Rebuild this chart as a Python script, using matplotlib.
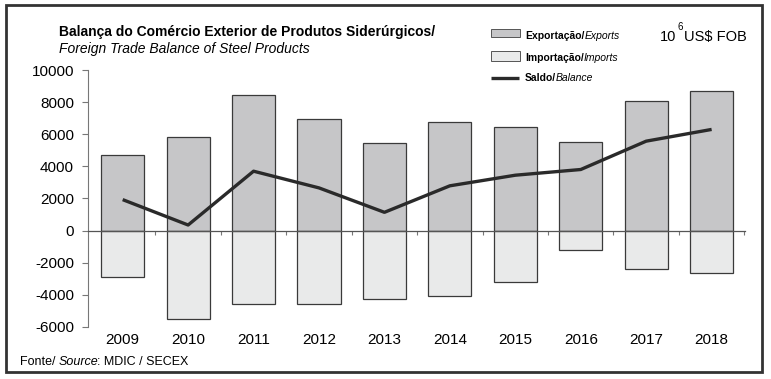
import matplotlib.pyplot as plt
from matplotlib.patches import Rectangle
from matplotlib.lines import Line2D
import numpy as np

years = ["2009", "2010", "2011", "2012", "2013", "2014", "2015", "2016", "2017", "2018"]
exports = [4720, 5800, 8420, 6970, 5430, 6740, 6470, 5490, 8050, 8710]
imports = [-2870, -5510, -4575, -4575, -4240, -4055, -3200, -1205, -2370, -2640]
balance = [1930, 350, 3700, 2660, 1140, 2790, 3450, 3805, 5570, 6300]
yticks = [-6000, -4000, -2000, 0, 2000, 4000, 6000, 8000, 10000]

plt.rcParams['font.family'] = ['Liberation Sans', 'DejaVu Sans']

W, H = 771, 379
fig = plt.figure(figsize=(W / 100, H / 100), dpi=100)
ax = fig.add_axes([88 / W, 1 - 327 / H, (745 - 88) / W, (327 - 70) / H])

x = np.arange(len(years))
ax.bar(x, exports, width=0.66, color="#c6c6c8", edgecolor="#3a3a3a", linewidth=0.9, zorder=2)
ax.bar(x, imports, width=0.66, color="#e9eaea", edgecolor="#3a3a3a", linewidth=0.9, zorder=2)
ax.plot(x, balance, color="#2a2a2a", linewidth=2.4, zorder=4, solid_capstyle="butt")

ax.set_xlim(-0.53, 9.51)
ax.set_ylim(-6000, 10000)
ax.set_yticks(yticks)
ax.set_yticklabels([str(v) for v in yticks], fontsize=11)
ax.tick_params(axis="y", direction="out", length=4, width=0.8, color="#777777", pad=6)

ax.spines["top"].set_visible(False)
ax.spines["right"].set_visible(False)
ax.spines["left"].set_color("#777777")
ax.spines["left"].set_linewidth(0.8)
ax.spines["bottom"].set_position(("data", 0))
ax.spines["bottom"].set_color("#555555")
ax.spines["bottom"].set_linewidth(0.9)
ax.spines["bottom"].set_zorder(3)
ax.set_xticks(np.arange(0.5, 10, 1.0))
ax.set_xticklabels([])
ax.tick_params(axis="x", direction="out", length=3, width=0.8, color="#777777")

for i, yr in enumerate(years):
    ax.text(i, -6800, yr, ha="center", va="center", fontsize=11, clip_on=False)

renderer = fig.canvas.get_renderer()


def pieces(xp, yp, parts, size):
    # draw text made of several styled pieces, left to right, baseline at yp (pixels)
    for s, weight, style in parts:
        t = fig.text(xp / W, 1 - yp / H, s, fontsize=size, fontweight=weight,
                     fontstyle=style, va="baseline", ha="left")
        xp += t.get_window_extent(renderer).width
        if style == "italic":
            xp -= 1.5
    return xp


# titles
fig.text(59 / W, 1 - 36 / H, "Balança do Comércio Exterior de Produtos Siderúrgicos/",
         fontsize=10, fontweight="bold", va="baseline")
fig.text(59 / W, 1 - 53 / H, "Foreign Trade Balance of Steel Products",
         fontsize=10, fontstyle="italic", va="baseline")

# unit
xe = pieces(660, 41, [("10", "normal", "normal")], 10.5)
fig.text((xe + 1) / W, 1 - 30 / H, "6", fontsize=7, va="baseline")
pieces(xe + 8, 41, [("US$ FOB", "normal", "normal")], 10.5)

# legend
fig.add_artist(Rectangle((491 / W, 1 - 37 / H), 29 / W, 8 / H, transform=fig.transFigure,
                         facecolor="#c6c6c8", edgecolor="#555555", linewidth=0.7))
fig.add_artist(Rectangle((491 / W, 1 - 61 / H), 29 / W, 10 / H, transform=fig.transFigure,
                         facecolor="#e9eaea", edgecolor="#555555", linewidth=0.7))
fig.add_artist(Line2D([491 / W, 519 / W], [1 - 78 / H, 1 - 78 / H], transform=fig.transFigure,
                      color="#2a2a2a", linewidth=2.4, solid_capstyle="butt"))
pieces(525, 39, [("Exportação/", "bold", "normal"), ("Exports", "normal", "italic")], 7.5)
pieces(525, 61, [("Importação/", "bold", "normal"), ("Imports", "normal", "italic")], 7.5)
pieces(525, 81, [("Saldo/", "bold", "normal"), ("Balance", "normal", "italic")], 7.5)

# source
pieces(20, 365, [("Fonte/ ", "normal", "normal"), ("Source", "normal", "italic"),
                 (": MDIC / SECEX", "normal", "normal")], 9)

# outer frame
fig.add_artist(Rectangle((6 / W, 1 - 372 / H), 756 / W, 367 / H, transform=fig.transFigure,
                         fill=False, edgecolor="#333333", linewidth=2))

fig.savefig("out.png", dpi=100)
